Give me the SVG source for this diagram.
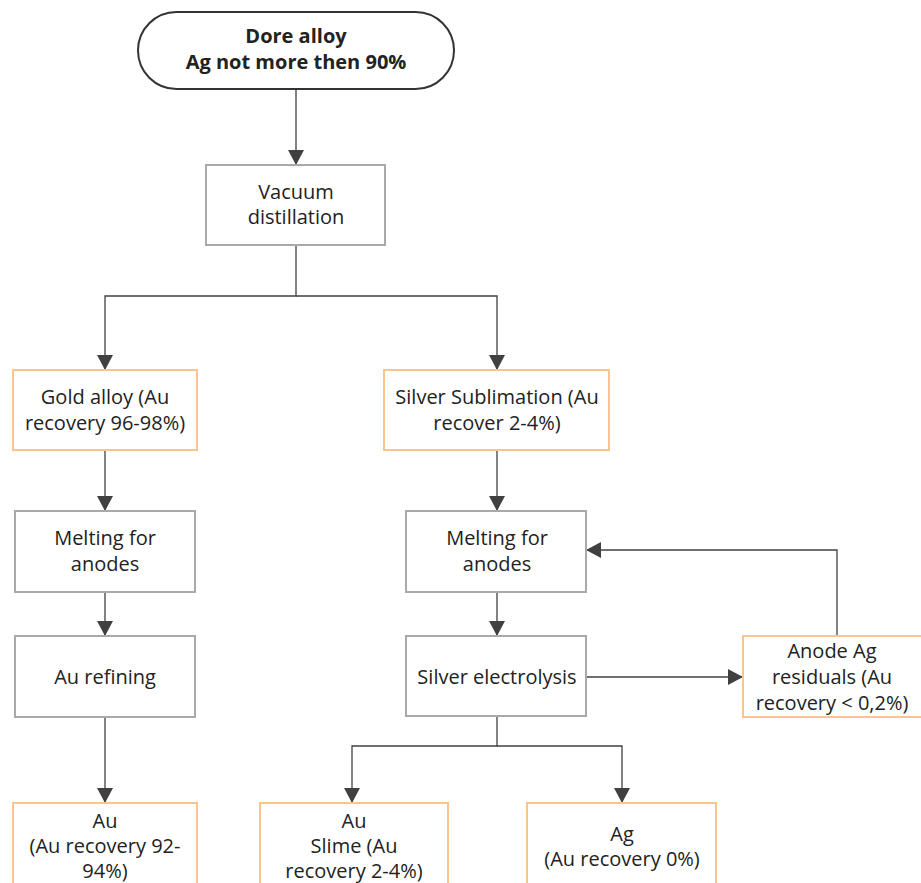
<svg xmlns="http://www.w3.org/2000/svg" width="921" height="883" viewBox="0 0 921 883">
<defs>
<marker id="ah" markerWidth="16" markerHeight="16" refX="14" refY="8" orient="auto" markerUnits="userSpaceOnUse">
<path d="M0,0 L15,8 L0,16 Z" fill="#404040"/>
</marker>
<style>
.t{font-family:"Open Sans","Noto Sans",sans-serif;font-size:20px;fill:#222;text-anchor:middle}
.b{font-weight:bold;font-size:20px}
.g{fill:#fff;stroke:#a9a9a9;stroke-width:2}
.o{fill:#fff;stroke:#fbc48c;stroke-width:2}
.c{fill:none;stroke:#404040;stroke-width:1.3}
</style>
</defs>
<rect width="921" height="883" fill="#fff"/>
<g id="connectors">
<path class="c" d="M296,89 V164" marker-end="url(#ah)"/>
<path class="c" d="M296,245 V296 H105 V369" marker-end="url(#ah)"/>
<path class="c" d="M296,296 H497 V369" marker-end="url(#ah)"/>
<path class="c" d="M105,450 V510" marker-end="url(#ah)"/>
<path class="c" d="M105,592 V635" marker-end="url(#ah)"/>
<path class="c" d="M105,717 V802" marker-end="url(#ah)"/>
<path class="c" d="M497,450 V510" marker-end="url(#ah)"/>
<path class="c" d="M497,592 V635" marker-end="url(#ah)"/>
<path class="c" d="M586,677 H742" marker-end="url(#ah)"/>
<path class="c" d="M837,636 V550 H587" marker-end="url(#ah)"/>
<path class="c" d="M497,716 V746 H352 V802" marker-end="url(#ah)"/>
<path class="c" d="M497,746 H622 V802" marker-end="url(#ah)"/>
</g>
<g id="dore">
<rect x="138" y="12" width="316" height="77" rx="38.5" fill="#fff" stroke="#333" stroke-width="2"/>
<text class="t b" x="296" y="43">Dore alloy</text>
<text class="t b" x="296" y="69">Ag not more then 90%</text>
</g>
<g id="vacuum">
<rect class="g" x="206" y="165" width="179" height="80"/>
<text class="t" x="296" y="199">Vacuum</text>
<text class="t" x="296" y="224">distillation</text>
</g>
<g id="gold">
<rect class="o" x="13" y="370" width="184" height="80"/>
<text class="t" x="105" y="404">Gold alloy (Au</text>
<text class="t" x="105" y="430">recovery 96-98%)</text>
</g>
<g id="silver">
<rect class="o" x="384" y="370" width="225" height="80"/>
<text class="t" x="497" y="404">Silver Sublimation (Au</text>
<text class="t" x="497" y="430">recover 2-4%)</text>
</g>
<g id="melt1">
<rect class="g" x="15" y="511" width="180" height="81"/>
<text class="t" x="105" y="545">Melting for</text>
<text class="t" x="105" y="571">anodes</text>
</g>
<g id="aurefining">
<rect class="g" x="15" y="636" width="180" height="81"/>
<text class="t" x="105" y="684">Au refining</text>
</g>
<g id="au">
<rect class="o" x="13" y="803" width="184" height="90"/>
<text class="t" x="105" y="828">Au</text>
<text class="t" x="105" y="853">(Au recovery 92-</text>
<text class="t" x="105" y="878">94%)</text>
</g>
<g id="melt2">
<rect class="g" x="406" y="511" width="180" height="81"/>
<text class="t" x="497" y="545">Melting for</text>
<text class="t" x="497" y="571">anodes</text>
</g>
<g id="electrolysis">
<rect class="g" x="406" y="636" width="180" height="80"/>
<text class="t" x="497" y="684">Silver electrolysis</text>
</g>
<g id="anode">
<rect class="o" x="743" y="636" width="180" height="81"/>
<text class="t" x="832" y="658">Anode Ag</text>
<text class="t" x="832" y="684">residuals (Au</text>
<text class="t" x="832" y="710">recovery &lt; 0,2%)</text>
</g>
<g id="slime">
<rect class="o" x="260" y="803" width="188" height="90"/>
<text class="t" x="354" y="828">Au</text>
<text class="t" x="354" y="853">Slime (Au</text>
<text class="t" x="354" y="878">recovery 2-4%)</text>
</g>
<g id="ag">
<rect class="o" x="527" y="803" width="189" height="90"/>
<text class="t" x="622" y="841">Ag</text>
<text class="t" x="622" y="866">(Au recovery 0%)</text>
</g>
</svg>
